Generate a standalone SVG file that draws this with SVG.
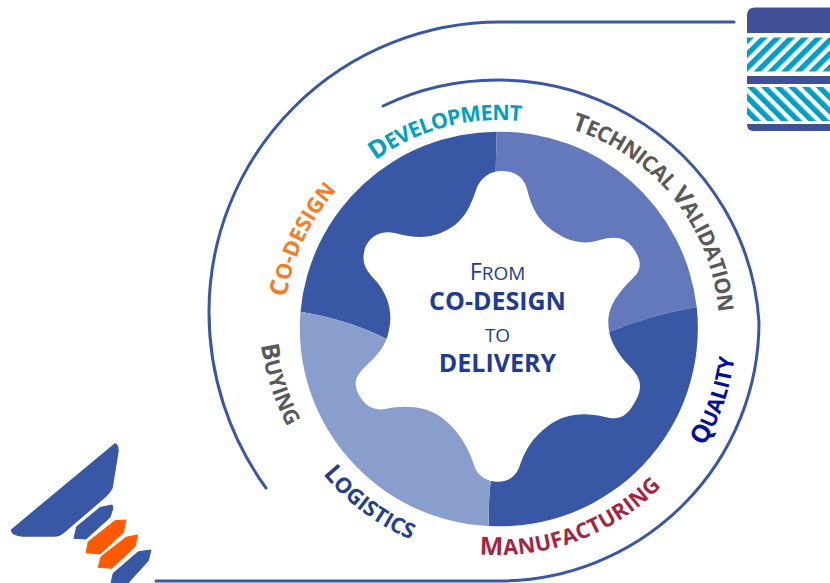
<svg xmlns="http://www.w3.org/2000/svg" xmlns:xlink="http://www.w3.org/1999/xlink" width="830" height="583" viewBox="0 0 830 583">
<style>
text{font-family:"Open Sans","Noto Sans","Liberation Sans",sans-serif;text-anchor:middle}
.lab{font-weight:700;font-size:21.5px;letter-spacing:-.7px}
.wide{letter-spacing:0}
.cap{font-size:25px}
.arc{fill:none;stroke:#3858a6;stroke-width:3;stroke-linecap:round}
.navy{fill:#1f3c95}
.reg{font-size:19px}.regc{font-size:23.5px}
.bold{font-weight:700;font-size:25px}
</style>
<defs>
<pattern id="s1" width="9.7" height="9.7" patternUnits="userSpaceOnUse" patternTransform="translate(747,37) rotate(45)"><rect width="5.4" height="9.7" fill="#009fc3"/></pattern>
<pattern id="s2" width="9.7" height="9.7" patternUnits="userSpaceOnUse" patternTransform="translate(747,87) rotate(-45)"><rect width="5.4" height="9.7" fill="#009fc3"/></pattern>
<path id="up" d="M499,538 A209,209 0 1 1 499,120 A209,209 0 1 1 499,538"/>
<path id="dn" d="M499,103 A226,226 0 1 0 499,555 A226,226 0 1 0 499,103"/>
<path id="by" d="M261,346 Q268,390 287,426"/>
</defs>
<g id="connectors">
<path class="arc" d="M734,22 H500 A291,290 0 0 0 209,312 A300,300 0 0 0 266,488"/>
<path class="arc" d="M383,106 A262,258 0 0 1 759,322 A260,259 0 0 1 500,581 H156"/>
</g>
<g id="wheel">
<path fill="#3858a6" d="M496.7,131.7 A198,198 0 0 0 300.5,311.7 Q350,320 386.7,339 L499,329 L495.7,170 Z"/>
<path fill="#6379bb" d="M496.7,131.7 A198,198 0 0 1 696.7,307 Q650,315 609,332 L499,329 L495.7,170 Z"/>
<path fill="#3858a6" d="M696.7,307 A198,198 0 0 1 488.7,526 Q488.5,500 490.7,481 L499,329 L609,332 Q650,315 696.7,307 Z"/>
<path fill="#8a9ece" d="M488.7,526 A198,198 0 0 1 300.5,311.7 Q350,320 386.7,339 L499,329 L490.7,481 Q488.5,500 488.7,526 Z"/>
<path fill="#fff" d="M501.7,171 C513,171 524,176 527.3,190 C531,205 537,221 556.7,233.3 C570,242 585,245 600,240 C615,236 625,237 633,248 C642,260 642,270 633,278 C620,291 608,305 608.3,323 C608.3,340 618,355 633,370 C642,380 642,390 635,402 C627,416 620,421 605,417 C585,412 565,413 548,426 C533,437 525,450 520,465 C516,477 508,481.7 498.3,481.7 C487,481.7 478,477 474,465 C468,446 458,430 441,417 C425,406 405,405 385,409 C372,411 365,405 359,395 C354,385 354,379 363,369 C375,357 386,348 389,330 C393,312 388,296 377,282 C365,270 361,262 365,248 C370,235 382,230 395,233 C420,240 437,238 455,225 C466,216 471,205 476,190 C480,178 490,171 501.7,171 Z"/>
</g>
<g id="centre-label" class="navy">
<text x="497.5" y="280" class="reg"><tspan class="regc">F</tspan>ROM</text>
<text x="497.5" y="310" class="bold">CO-DESIGN</text>
<text x="497.5" y="342" class="reg">TO</text>
<text x="497.5" y="372" class="bold">DELIVERY</text>
</g>
<g id="node-co-design"><text class="lab wide" fill="#f97a26" transform="translate(-6,0)"><textPath href="#up" startOffset="32%"><tspan class="cap">C</tspan>O-DESIGN</textPath></text></g>
<g id="node-development"><text class="lab" fill="#009fc3"><textPath href="#up" startOffset="45.8%"><tspan class="cap">D</tspan>EVELOPMENT</textPath></text></g>
<g id="node-technical-validation"><text class="lab" fill="#595959" transform="translate(11,0)"><textPath href="#up" startOffset="64.2%"><tspan class="cap">T</tspan>ECHNICAL <tspan class="cap">V</tspan>ALIDATION</textPath></text></g>
<g id="node-buying"><text class="lab wide" fill="#595959"><textPath href="#by" startOffset="50%"><tspan class="cap">B</tspan>UYING</textPath></text></g>
<g id="node-logistics"><text class="lab wide" fill="#223f92" transform="translate(-1,2)"><textPath href="#dn" startOffset="39.8%"><tspan class="cap">L</tspan>OGISTICS</textPath></text></g>
<g id="node-manufacturing"><text class="lab" fill="#a5243f" style="letter-spacing:.4px"><textPath href="#dn" startOffset="55.7%"><tspan class="cap">M</tspan>ANUFACTURING</textPath></text></g>
<g id="node-quality"><text class="lab" fill="#00109c" style="letter-spacing:-.3px" transform="translate(11,1)"><textPath href="#dn" startOffset="69.7%"><tspan class="cap">Q</tspan>UALITY</textPath></text></g>
<g id="icon-panel">
<path fill="#3f5096" d="M830,7.5 V33 H747 V15.5 Q747,7.5 755,7.5 Z"/>
<rect x="747" y="37.5" width="83" height="34" fill="url(#s1)"/>
<rect x="747" y="76" width="83" height="8" fill="#3f5096"/>
<rect x="747" y="87" width="83" height="34" fill="url(#s2)"/>
<path fill="#3f5096" d="M830,124 V131 H753 Q747,131 747,124 Z"/>
</g>
<g id="icon-rocket">
<path fill="#3858a6" stroke="#3858a6" stroke-linejoin="round" stroke-width="1.5" d="M115,444 Q118,445 118,451 L112,488 Q110,492 106,496 L64,532 Q60,536 54,536 H22 Q12,535 11.5,530 Z"/>
<path fill="#3858a6" stroke="#3858a6" stroke-linejoin="round" d="M100,507.5 L112,505 L113,508 L110,517.3 L86,539 L74,538.3 L76.7,526.7 Z"/>
<path fill="#ff5a00" stroke="#ff5a00" stroke-linejoin="round" d="M115,520.7 L126,520 L123.3,532.7 L100,554 L86,552.7 L88.3,541.7 Z"/>
<path fill="#ff5a00" stroke="#ff5a00" stroke-linejoin="round" d="M126,537.3 L137.7,535 L135,546.7 L111.7,568.3 L98.3,567.3 L101,556.7 Z"/>
<path fill="#3858a6" stroke="#3858a6" stroke-linejoin="round" d="M138.3,551.7 L151,550 L148.3,560.7 L128,583 H111 L113.3,573.3 Z"/>
</g>
</svg>
